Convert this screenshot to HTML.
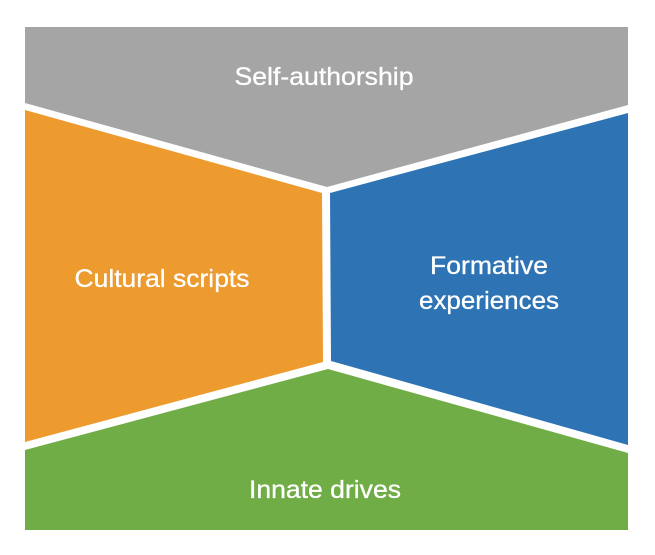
<!DOCTYPE html>
<html><head><style>
html,body{margin:0;padding:0;background:#fff;width:655px;height:555px;overflow:hidden}
svg text{font-family:"Liberation Sans",sans-serif;fill:#fff;font-size:25px;text-anchor:middle;stroke:#fff;stroke-width:0.3}
</style></head><body>
<svg width="655" height="555" viewBox="0 0 655 555">
<polygon points="25,27 628,27 628,105 327,187 25,103" fill="#a5a5a5"/>
<polygon points="25,110 322,193 323,362 25,442" fill="#ed9a2e"/>
<polygon points="330,193 628,113 628,445 331,361" fill="#2e74b5"/>
<polygon points="25,450 328,369 628,453 628,530 25,530" fill="#70ad47"/>
<text x="324" y="85" textLength="179" lengthAdjust="spacingAndGlyphs">Self-authorship</text>
<text x="162" y="287" textLength="175" lengthAdjust="spacingAndGlyphs">Cultural scripts</text>
<text x="489" y="274" textLength="118" lengthAdjust="spacingAndGlyphs">Formative</text>
<text x="489" y="309" textLength="140" lengthAdjust="spacingAndGlyphs">experiences</text>
<text x="325" y="498" textLength="152" lengthAdjust="spacingAndGlyphs">Innate drives</text>
</svg>
</body></html>
